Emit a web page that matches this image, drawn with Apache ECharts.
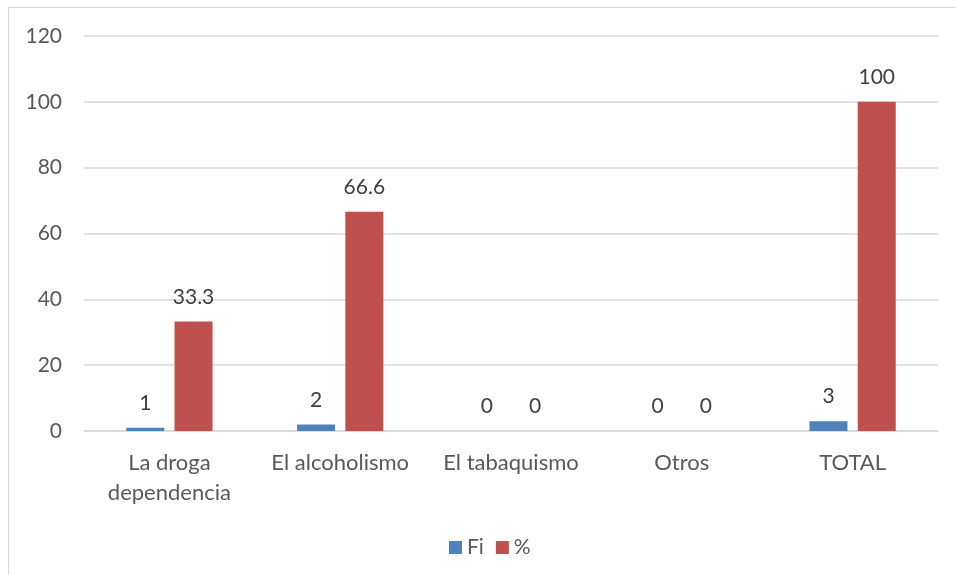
<!DOCTYPE html>
<html>
<head>
<meta charset="utf-8">
<script src="https://cdn.jsdelivr.net/npm/echarts@6/dist/echarts.min.js"></script>
<style>
  html, body { margin: 0; padding: 0; background: #fff; overflow: hidden; }
  #frame { position: absolute; left: 8px; top: 7px; width: 1000px; height: 1000px; border: 1px solid #d9d9d9; box-sizing: border-box; }
  #chart { position: absolute; left: 0; top: 0; width: 956px; height: 575px; }
</style>
</head>
<body>
<div id="frame"></div>
<div id="chart"></div>
<script>
// Categories and series values
const categories = ['La droga\ndependencia', 'El alcoholismo', 'El tabaquismo', 'Otros', 'TOTAL'];
const fiValues = [1, 2, 0, 0, 3];
const pctValues = [33.3, 66.6, 0, 0, 100];
const yTicks = { min: 0, max: 120, interval: 20 };

const font = "Lato, 'Open Sans', sans-serif";
const labelStyle = { show: true, position: 'top', distance: 14, color: '#404040', fontSize: 21, fontFamily: font };

const chart = echarts.init(document.getElementById('chart'), null, { renderer: 'canvas' });
chart.setOption({
  animation: false,
  grid: { left: 84, right: 18, top: 36, bottom: 144 },
  legend: {
    top: 532,
    left: 444,
    itemWidth: 13,
    itemHeight: 13,
    itemGap: 12,
    icon: 'rect',
    textStyle: { color: '#595959', fontSize: 21, fontFamily: font },
    data: ['Fi', '%']
  },
  xAxis: {
    type: 'category',
    data: categories,
    axisLine: { lineStyle: { color: '#d9d9d9', width: 1.5 } },
    axisTick: { show: false },
    axisLabel: { color: '#595959', fontSize: 22, fontFamily: font, margin: 17, lineHeight: 30, interval: 0 }
  },
  yAxis: {
    type: 'value',
    min: yTicks.min,
    max: yTicks.max,
    interval: yTicks.interval,
    axisLine: { show: false },
    axisTick: { show: false },
    axisLabel: { color: '#595959', fontSize: 21, fontFamily: font, margin: 22 },
    splitLine: { lineStyle: { color: '#d9d9d9', width: 1.5 } }
  },
  series: [
    {
      name: 'Fi',
      type: 'bar',
      data: fiValues,
      barWidth: 38,
      barGap: '27%',
      itemStyle: { color: '#4f81bd' },
      label: labelStyle
    },
    {
      name: '%',
      type: 'bar',
      data: pctValues,
      barWidth: 38,
      itemStyle: { color: '#c0504d' },
      label: labelStyle
    }
  ]
});
</script>
</body>
</html>
